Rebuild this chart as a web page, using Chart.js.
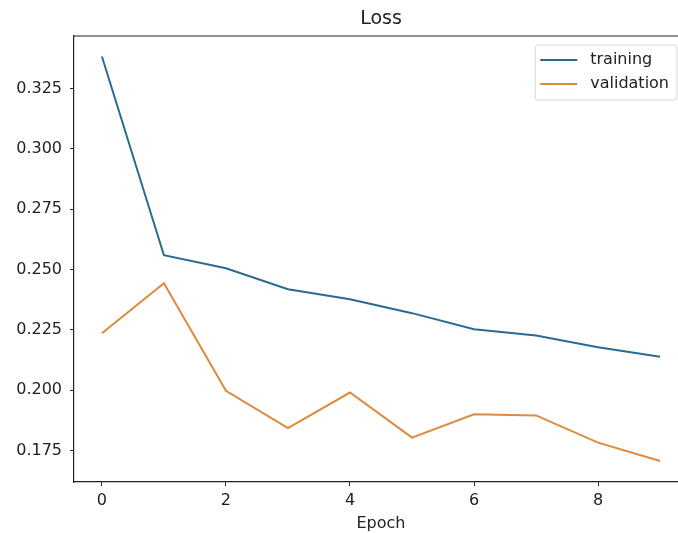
<!DOCTYPE html>
<html>
<head>
<meta charset="utf-8">
<script src="https://cdn.jsdelivr.net/npm/chart.js@4/dist/chart.umd.min.js"></script>
<style>
  html, body { margin: 0; padding: 0; background: #fff; }
  #wrap { width: 678px; height: 533px; overflow: hidden; }
  #wrap div { width: 700px; height: 533px; }
</style>
</head>
<body>
<div id="wrap"><div><canvas id="lossChart" width="700" height="533"></canvas></div></div>
<script>
// data
const epochs = [0, 1, 2, 3, 4, 5, 6, 7, 8, 9];
const trainingLoss = [0.3383, 0.2559, 0.2505, 0.2418, 0.2377, 0.2319, 0.2252, 0.2226, 0.2178, 0.2138];
const validationLoss = [0.2236, 0.2443, 0.1997, 0.1842, 0.1990, 0.1803, 0.1900, 0.1895, 0.1782, 0.1706];
const xTicks = [0, 2, 4, 6, 8];
const yTicks = [0.175, 0.200, 0.225, 0.250, 0.275, 0.300, 0.325];

const textColor = '#222';
const font = { family: 'DejaVu Sans', size: 16 };

// top spine (left and bottom come from the axis borders)
const topSpine = {
    id: 'topSpine',
    afterDraw(chart) {
        const { ctx, chartArea } = chart;
        ctx.save();
        ctx.strokeStyle = '#222';
        ctx.lineWidth = 1.2;
        ctx.beginPath();
        ctx.moveTo(chartArea.left, chartArea.top);
        ctx.lineTo(chartArea.right, chartArea.top);
        ctx.stroke();
        ctx.restore();
    }
};

// legend drawn inside the plot, upper right
const insideLegend = {
    id: 'insideLegend',
    afterDraw(chart) {
        const { ctx, chartArea } = chart;
        const sets = chart.data.datasets;
        ctx.save();
        ctx.font = font.size + 'px ' + font.family;
        const textW = Math.max(...sets.map(d => ctx.measureText(d.label).width));
        const w = 5 + 37 + 13 + textW + 8;
        const h = 55;
        const right = chartArea.right - 11;
        const top = chartArea.top + 9;
        const left = right - w;
        ctx.fillStyle = 'rgba(255,255,255,0.85)';
        ctx.strokeStyle = '#d6d6d6';
        ctx.lineWidth = 1;
        ctx.beginPath();
        ctx.roundRect(left, top, w, h, 3);
        ctx.fill();
        ctx.stroke();
        sets.forEach((d, i) => {
            const y = top + 15 + i * 24;
            ctx.strokeStyle = d.borderColor;
            ctx.lineWidth = 2;
            ctx.beginPath();
            ctx.moveTo(left + 5, y);
            ctx.lineTo(left + 42, y);
            ctx.stroke();
            ctx.fillStyle = textColor;
            ctx.textBaseline = 'middle';
            ctx.fillText(d.label, left + 55, y);
        });
        ctx.restore();
    }
};

new Chart(document.getElementById('lossChart'), {
    type: 'line',
    data: {
        labels: epochs,
        datasets: [
            {
                label: 'training',
                data: epochs.map((e, i) => ({ x: e, y: trainingLoss[i] })),
                borderColor: '#2a6b93',
                borderWidth: 2,
                pointRadius: 0,
                tension: 0
            },
            {
                label: 'validation',
                data: epochs.map((e, i) => ({ x: e, y: validationLoss[i] })),
                borderColor: '#dc8a3e',
                borderWidth: 2,
                pointRadius: 0,
                tension: 0
            }
        ]
    },
    options: {
        responsive: false,
        animation: false,
        layout: { padding: { left: 0, right: 12, top: 0, bottom: 0 } },
        plugins: {
            legend: { display: false },
            tooltip: { enabled: false },
            title: {
                display: true,
                fullSize: false,
                text: 'Loss',
                color: textColor,
                font: { family: 'DejaVu Sans', size: 19, weight: 'normal' },
                padding: { top: 8, bottom: 5.2 }
            }
        },
        scales: {
            x: {
                type: 'linear',
                min: -0.45,
                max: 9.45,
                afterBuildTicks: scale => { scale.ticks = xTicks.map(v => ({ value: v })); },
                afterFit: scale => { scale.height = 51; },
                ticks: {
                    color: textColor,
                    font: font,
                    padding: 5,
                    maxRotation: 0,
                    callback: v => String(v)
                },
                grid: { drawOnChartArea: false, drawTicks: true, tickLength: 4, color: '#222' },
                border: { display: true, color: '#222', width: 1.2 },
                title: {
                    display: true,
                    text: 'Epoch',
                    color: textColor,
                    font: font,
                    padding: { top: 0, bottom: 0 }
                }
            },
            y: {
                type: 'linear',
                min: 0.1619,
                max: 0.3468,
                afterBuildTicks: scale => { scale.ticks = yTicks.map(v => ({ value: v })); },
                afterFit: scale => { scale.width = 74; },
                ticks: {
                    color: textColor,
                    font: font,
                    padding: 8,
                    callback: v => v.toFixed(3)
                },
                grid: { drawOnChartArea: false, drawTicks: true, tickLength: 4, color: '#222' },
                border: { display: true, color: '#222', width: 1.2 }
            }
        }
    },
    plugins: [topSpine, insideLegend]
});
</script>
</body>
</html>
